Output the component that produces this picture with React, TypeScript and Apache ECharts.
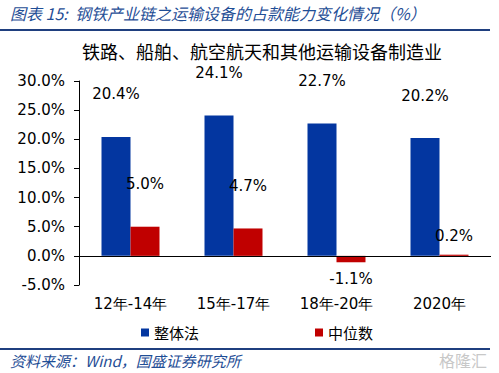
import React, { useEffect, useRef } from "react";
import * as echarts from "echarts";

const categories = ["12年-14年", "15年-17年", "18年-20年", "2020年"];
const wholeMethod = [20.4, 24.1, 22.7, 20.2];
const median = [5.0, 4.7, -1.1, 0.2];
const yTicks = { min: -5, max: 30, interval: 5 };

const NUM_FONT = "'DejaVu Sans', Verdana, sans-serif";
const CJK_FONT = "'Noto Sans CJK SC', sans-serif";

export default function App() {
  const ref = useRef<HTMLDivElement>(null);
  useEffect(() => {
    if (!ref.current) return;
    const chart = echarts.init(ref.current, undefined, { renderer: "svg" });
    const labelFor = (v: number, near: boolean) => ({
      show: true,
      position: v < 0 ? "bottom" : "top",
      distance: v < 0 ? 9 : near ? 11 : 35,
      formatter: (p: any) => p.value.toFixed(1) + "%",
      fontFamily: NUM_FONT,
      fontSize: 15,
      color: "#000",
    });
    chart.setOption({
      animation: false,
      backgroundColor: "#fff",
      grid: { left: 79, right: 8, top: 81, height: 204 },
      legend: {
        left: 136,
        top: 320,
        itemWidth: 8,
        itemHeight: 8,
        itemGap: 116,
        icon: "rect",
        textStyle: { fontFamily: CJK_FONT, fontSize: 15, color: "#000" },
        data: ["整体法", "中位数"],
      },
      xAxis: {
        type: "category",
        data: categories,
        axisLine: { show: false, onZero: false },
        axisTick: { show: false },
        axisLabel: {
          margin: 11,
          fontFamily: NUM_FONT,
          fontSize: 15,
          color: "#000",
        },
      },
      yAxis: {
        type: "value",
        min: yTicks.min,
        max: yTicks.max,
        interval: yTicks.interval,
        splitLine: { show: false },
        axisLine: { show: true, lineStyle: { color: "#000", width: 1 } },
        axisTick: { show: true, inside: false, length: 5, lineStyle: { color: "#000" } },
        axisLabel: {
          margin: 14,
          fontFamily: NUM_FONT,
          fontSize: 15,
          color: "#000",
          formatter: (v: number) => v.toFixed(1) + "%",
        },
      },
      series: [
        {
          name: "整体法",
          type: "bar",
          barWidth: 29,
          barGap: "0%",
          itemStyle: { color: "#0336A0" },
          data: wholeMethod.map((v) => ({ value: v, label: labelFor(v, false) })),
          markLine: {
            silent: true,
            symbol: "none",
            label: { show: false },
            lineStyle: { color: "#000", width: 1, type: "solid" },
            data: [{ yAxis: 0 }],
          },
        },
        {
          name: "中位数",
          type: "bar",
          barWidth: 29,
          barGap: "0%",
          itemStyle: { color: "#C00000" },
          data: median.map((v) => ({ value: v, label: labelFor(v, Math.abs(v) < 1) })),
        },
      ],
      graphic: [
        {
          type: "text",
          left: 10,
          top: 5,
          style: {
            text: "图表 15:  钢铁产业链之运输设备的占款能力变化情况（%）",
            fontFamily: CJK_FONT,
            fontStyle: "italic",
            fontSize: 16,
            fill: "#1F4E96",
          },
        },
        {
          type: "line",
          shape: { x1: 0, y1: 30, x2: 490, y2: 30 },
          style: { stroke: "#1F3F7F", lineWidth: 2 },
        },
        {
          type: "text",
          x: 262,
          y: 51,
          style: {
            text: "铁路、船舶、航空航天和其他运输设备制造业",
            fontFamily: CJK_FONT,
            fontSize: 18,
            fill: "#000",
            align: "center",
            verticalAlign: "middle",
          },
        },
        {
          type: "line",
          shape: { x1: 0, y1: 349, x2: 490, y2: 349 },
          style: { stroke: "#1F3F7F", lineWidth: 2 },
        },
        {
          type: "text",
          left: 10,
          top: 353,
          style: {
            text: "资料来源：Wind，国盛证券研究所",
            fontFamily: CJK_FONT,
            fontStyle: "italic",
            fontSize: 15,
            fill: "#1F4E96",
          },
        },
        {
          type: "text",
          right: 12,
          top: 352,
          style: {
            text: "格隆汇",
            fontFamily: CJK_FONT,
            fontSize: 16,
            fill: "#C8C8C8",
          },
        },
      ],
    });
    return () => chart.dispose();
  }, []);
  return (
    <div
      ref={ref}
      style={{ position: "fixed", left: 0, top: 0, width: 499, height: 373 }}
    />
  );
}
